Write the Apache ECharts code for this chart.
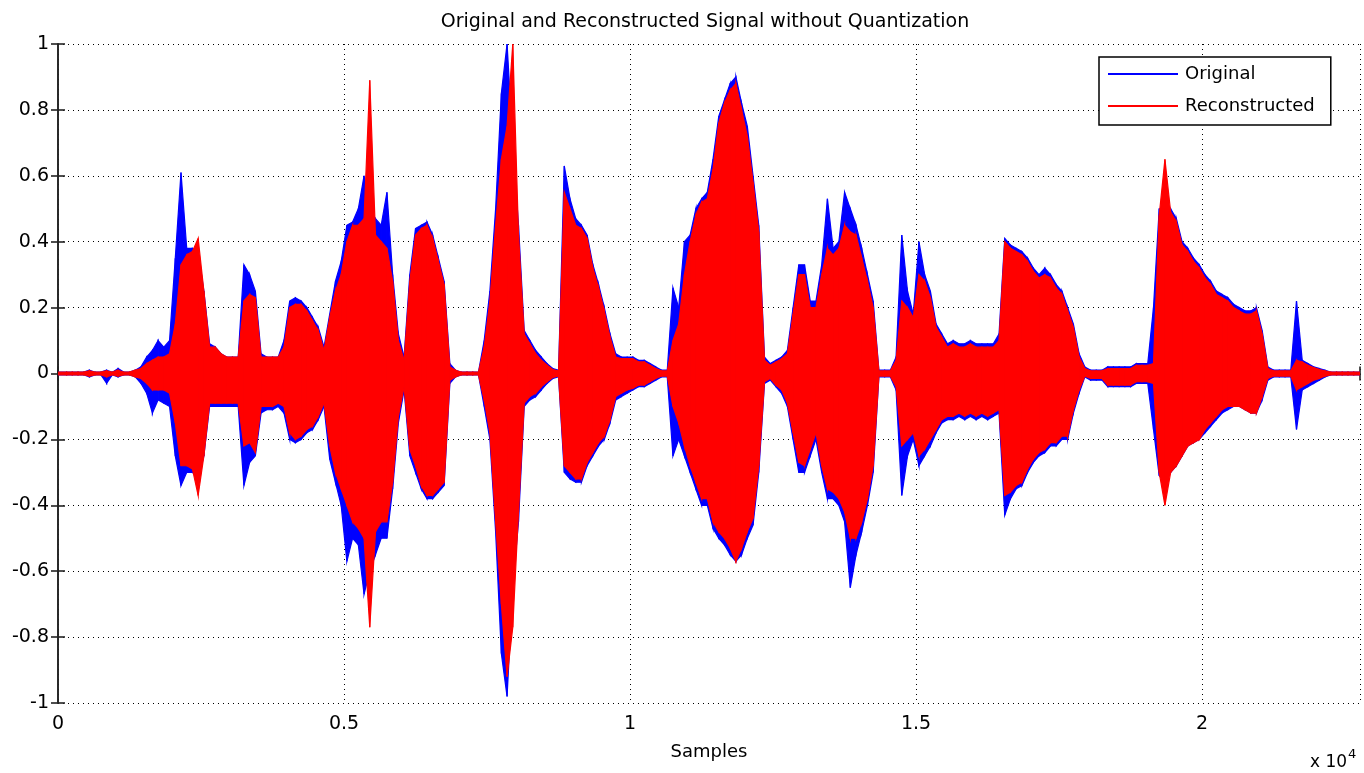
<!DOCTYPE html>
<html>
<head>
<meta charset="utf-8">
<script src="https://cdn.jsdelivr.net/npm/echarts@6/dist/echarts.min.js"></script>
<style>
html,body{margin:0;padding:0;background:#fff;}
#chart{width:1364px;height:773px;}
</style>
</head>
<body>
<div id="chart"></div>
<script>
// Envelope of the waveform, one value per block of 100 samples
var blockSize = 100;
var totalSamples = 22760;
var xTickLabels = ['0', '0.5', '1', '1.5', '2'];
var yTicks = [1, 0.8, 0.6, 0.4, 0.2, 0, -0.2, -0.4, -0.6, -0.8, -1];

var origMax = [
0.004,0.004,0.004,0.004,0.004,0.01,0.004,0.004,0.01,0.004,
0.015,0.004,0.004,0.01,0.02,0.05,0.07,0.1,0.08,0.1,
0.35,0.61,0.38,0.38,0.37,0.25,0.09,0.08,0.06,0.05,
0.05,0.05,0.33,0.3,0.25,0.06,0.05,0.05,0.05,0.1,
0.22,0.23,0.22,0.2,0.17,0.14,0.08,0.18,0.28,0.34,
0.45,0.46,0.5,0.6,0.5,0.47,0.45,0.55,0.3,0.12,
0.05,0.3,0.44,0.45,0.46,0.42,0.35,0.28,0.03,0.01,
0.004,0.004,0.004,0.004,0.1,0.25,0.5,0.85,1.0,0.7,
0.45,0.13,0.1,0.07,0.05,0.03,0.015,0.01,0.63,0.53,
0.47,0.45,0.42,0.33,0.27,0.2,0.12,0.06,0.05,0.05,
0.05,0.04,0.04,0.03,0.02,0.01,0.01,0.26,0.2,0.4,
0.42,0.5,0.53,0.55,0.65,0.78,0.83,0.88,0.9,0.82,
0.75,0.6,0.45,0.05,0.03,0.04,0.05,0.07,0.2,0.33,
0.33,0.22,0.22,0.33,0.53,0.38,0.4,0.55,0.5,0.45,
0.38,0.3,0.22,0.01,0.01,0.01,0.05,0.42,0.25,0.18,
0.4,0.3,0.25,0.15,0.12,0.09,0.1,0.09,0.09,0.1,
0.09,0.09,0.09,0.09,0.12,0.41,0.39,0.38,0.37,0.35,
0.32,0.3,0.32,0.3,0.27,0.25,0.2,0.15,0.06,0.02,
0.01,0.01,0.01,0.02,0.02,0.02,0.02,0.02,0.03,0.03,
0.03,0.2,0.5,0.5,0.5,0.47,0.4,0.38,0.35,0.33,
0.3,0.28,0.25,0.24,0.23,0.21,0.2,0.19,0.19,0.2,
0.13,0.02,0.01,0.01,0.01,0.01,0.22,0.04,0.03,0.02,
0.015,0.01,0.004,0.004,0.004,0.004,0.004,0.004
];
var origMin = [
-0.004,-0.004,-0.004,-0.004,-0.004,-0.01,-0.004,-0.004,-0.03,-0.004,
-0.01,-0.004,-0.004,-0.01,-0.03,-0.06,-0.12,-0.08,-0.09,-0.1,
-0.25,-0.34,-0.3,-0.3,-0.32,-0.25,-0.1,-0.1,-0.1,-0.1,
-0.1,-0.1,-0.34,-0.27,-0.25,-0.12,-0.11,-0.11,-0.1,-0.12,
-0.2,-0.21,-0.2,-0.18,-0.17,-0.14,-0.1,-0.26,-0.33,-0.4,
-0.57,-0.5,-0.52,-0.67,-0.6,-0.55,-0.5,-0.5,-0.35,-0.15,
-0.05,-0.25,-0.3,-0.35,-0.38,-0.38,-0.36,-0.34,-0.03,-0.01,
-0.004,-0.004,-0.004,-0.004,-0.1,-0.2,-0.48,-0.85,-0.98,-0.65,
-0.45,-0.1,-0.08,-0.07,-0.05,-0.03,-0.015,-0.01,-0.3,-0.32,
-0.33,-0.33,-0.28,-0.25,-0.22,-0.2,-0.15,-0.08,-0.07,-0.06,
-0.05,-0.04,-0.04,-0.03,-0.02,-0.01,-0.01,-0.25,-0.2,-0.25,
-0.3,-0.35,-0.4,-0.4,-0.47,-0.5,-0.52,-0.55,-0.57,-0.55,
-0.5,-0.46,-0.3,-0.03,-0.02,-0.04,-0.06,-0.1,-0.2,-0.3,
-0.3,-0.25,-0.2,-0.3,-0.38,-0.38,-0.4,-0.45,-0.65,-0.55,
-0.48,-0.4,-0.3,-0.01,-0.01,-0.01,-0.05,-0.37,-0.25,-0.2,
-0.28,-0.25,-0.22,-0.18,-0.15,-0.14,-0.14,-0.13,-0.14,-0.13,
-0.14,-0.13,-0.14,-0.13,-0.12,-0.43,-0.38,-0.35,-0.34,-0.3,
-0.27,-0.25,-0.24,-0.22,-0.22,-0.2,-0.2,-0.12,-0.06,-0.01,
-0.02,-0.02,-0.02,-0.04,-0.04,-0.04,-0.04,-0.04,-0.03,-0.03,
-0.03,-0.17,-0.31,-0.33,-0.3,-0.28,-0.25,-0.22,-0.21,-0.2,
-0.18,-0.16,-0.14,-0.12,-0.11,-0.1,-0.1,-0.11,-0.12,-0.12,
-0.08,-0.02,-0.01,-0.01,-0.01,-0.01,-0.17,-0.05,-0.04,-0.03,
-0.02,-0.01,-0.004,-0.004,-0.004,-0.004,-0.004,-0.004
];
var recMax = [
0.004,0.004,0.004,0.004,0.004,0.008,0.004,0.004,0.008,0.004,
0.01,0.004,0.004,0.01,0.015,0.03,0.04,0.05,0.05,0.06,
0.15,0.33,0.36,0.37,0.41,0.25,0.08,0.08,0.06,0.05,
0.05,0.05,0.22,0.24,0.23,0.05,0.05,0.05,0.05,0.08,
0.2,0.21,0.21,0.19,0.16,0.13,0.07,0.17,0.25,0.3,
0.4,0.45,0.45,0.47,0.89,0.42,0.4,0.38,0.28,0.1,
0.04,0.28,0.42,0.44,0.45,0.41,0.34,0.27,0.02,0.01,
0.004,0.004,0.004,0.004,0.08,0.22,0.45,0.65,0.75,1.0,
0.42,0.12,0.09,0.06,0.04,0.025,0.012,0.008,0.55,0.5,
0.45,0.44,0.41,0.32,0.26,0.19,0.11,0.05,0.045,0.045,
0.045,0.035,0.035,0.025,0.015,0.008,0.008,0.1,0.15,0.3,
0.4,0.48,0.52,0.53,0.62,0.76,0.82,0.86,0.88,0.8,
0.72,0.58,0.43,0.04,0.025,0.035,0.045,0.06,0.18,0.3,
0.3,0.2,0.2,0.3,0.38,0.36,0.38,0.45,0.43,0.42,
0.35,0.28,0.2,0.008,0.008,0.008,0.04,0.22,0.2,0.17,
0.3,0.28,0.23,0.14,0.11,0.08,0.09,0.08,0.08,0.09,
0.08,0.08,0.08,0.08,0.1,0.4,0.38,0.37,0.36,0.34,
0.31,0.29,0.3,0.29,0.26,0.24,0.19,0.14,0.05,0.015,
0.008,0.008,0.008,0.015,0.015,0.015,0.015,0.015,0.025,0.025,
0.025,0.03,0.48,0.65,0.49,0.46,0.39,0.37,0.34,0.32,
0.29,0.27,0.24,0.23,0.22,0.2,0.19,0.18,0.18,0.19,
0.12,0.015,0.008,0.008,0.008,0.008,0.04,0.035,0.025,0.018,
0.012,0.008,0.004,0.004,0.004,0.004,0.004,0.004
];
var recMin = [
-0.004,-0.004,-0.004,-0.004,-0.004,-0.008,-0.004,-0.004,-0.01,-0.004,
-0.008,-0.004,-0.004,-0.01,-0.015,-0.03,-0.05,-0.05,-0.05,-0.06,
-0.15,-0.28,-0.28,-0.29,-0.37,-0.25,-0.09,-0.09,-0.09,-0.09,
-0.09,-0.09,-0.22,-0.21,-0.24,-0.1,-0.1,-0.1,-0.09,-0.1,
-0.18,-0.2,-0.19,-0.17,-0.16,-0.13,-0.09,-0.22,-0.3,-0.35,
-0.4,-0.45,-0.47,-0.5,-0.77,-0.48,-0.45,-0.45,-0.33,-0.13,
-0.04,-0.23,-0.28,-0.34,-0.37,-0.37,-0.35,-0.33,-0.02,-0.01,
-0.004,-0.004,-0.004,-0.004,-0.08,-0.18,-0.45,-0.7,-0.92,-0.77,
-0.42,-0.09,-0.07,-0.06,-0.04,-0.025,-0.012,-0.008,-0.28,-0.3,
-0.32,-0.32,-0.27,-0.24,-0.21,-0.19,-0.14,-0.07,-0.06,-0.05,
-0.045,-0.035,-0.035,-0.025,-0.015,-0.008,-0.008,-0.1,-0.15,-0.22,
-0.28,-0.33,-0.38,-0.38,-0.45,-0.48,-0.5,-0.53,-0.57,-0.53,
-0.48,-0.44,-0.28,-0.025,-0.015,-0.035,-0.05,-0.09,-0.18,-0.27,
-0.28,-0.23,-0.18,-0.28,-0.35,-0.36,-0.38,-0.42,-0.5,-0.5,
-0.45,-0.38,-0.28,-0.008,-0.008,-0.008,-0.04,-0.22,-0.2,-0.18,
-0.25,-0.23,-0.2,-0.17,-0.14,-0.13,-0.13,-0.12,-0.13,-0.12,
-0.13,-0.12,-0.13,-0.12,-0.11,-0.37,-0.36,-0.34,-0.33,-0.29,
-0.26,-0.24,-0.23,-0.21,-0.21,-0.19,-0.19,-0.11,-0.05,-0.008,
-0.015,-0.015,-0.015,-0.035,-0.035,-0.035,-0.035,-0.035,-0.025,-0.025,
-0.025,-0.03,-0.3,-0.4,-0.3,-0.28,-0.25,-0.22,-0.21,-0.2,
-0.17,-0.15,-0.13,-0.11,-0.1,-0.1,-0.1,-0.11,-0.12,-0.12,
-0.07,-0.015,-0.008,-0.008,-0.008,-0.008,-0.05,-0.04,-0.03,-0.02,
-0.015,-0.008,-0.004,-0.004,-0.004,-0.004,-0.004,-0.004
];

// One band segment per pair of neighbouring blocks: [x0, max0, min0, x1, max1, min1]
function blockX(i, n) {
  if (i === 0) return 0;
  if (i === n - 1) return totalSamples;
  return i * blockSize + blockSize / 2;
}
function buildBand(maxArr, minArr) {
  var items = [];
  var n = maxArr.length;
  for (var i = 0; i < n - 1; i++) {
    items.push([blockX(i, n), maxArr[i], minArr[i], blockX(i + 1, n), maxArr[i + 1], minArr[i + 1]]);
  }
  return items;
}
function makeRender(color) {
  return function (params, api) {
    var a = api.coord([api.value(0), api.value(1)]);
    var b = api.coord([api.value(3), api.value(4)]);
    var c = api.coord([api.value(3), api.value(5)]);
    var d = api.coord([api.value(0), api.value(2)]);
    return {
      type: 'polygon',
      shape: { points: [a, b, c, d] },
      style: { fill: color, stroke: color, lineWidth: 1.2 }
    };
  };
}

var FONT = '"DejaVu Sans", Verdana, sans-serif';
var chart = echarts.init(document.getElementById('chart'));
var gridLine = { show: true, lineStyle: { color: '#000', type: [1, 4], width: 1 } };
var axisLine = { show: true, lineStyle: { color: '#222', width: 1.6 } };
var axisTick = { show: true, inside: true, length: 7, lineStyle: { color: '#222', width: 1.6 } };

var option = {
  animation: false,
  backgroundColor: '#fff',
  title: {
    text: 'Original and Reconstructed Signal without Quantization',
    left: 700, top: 8, textAlign: 'center',
    textStyle: { fontFamily: FONT, fontSize: 19, fontWeight: 'normal', color: '#000' }
  },
  legend: {
    orient: 'vertical', left: 1099, top: 57,
    padding: [8, 16, 10, 9], itemGap: 14,
    itemWidth: 70, itemHeight: 2, icon: 'rect',
    backgroundColor: '#fff', borderColor: '#000', borderWidth: 1.5,
    textStyle: { fontFamily: FONT, fontSize: 18, color: '#000', padding: [0, 0, 0, 2] },
    data: [
      { name: 'Original', itemStyle: { color: '#0000ff' } },
      { name: 'Reconstructed', itemStyle: { color: '#ff0000' } }
    ]
  },
  grid: { left: 58, right: 4, top: 44, bottom: 70, containLabel: false },
  xAxis: [{
    type: 'value', min: 0, max: totalSamples, interval: 5000,
    name: 'Samples', nameLocation: 'middle', nameGap: 40,
    nameTextStyle: { fontFamily: FONT, fontSize: 18, color: '#000' },
    axisLine: axisLine, axisTick: axisTick,
    axisLabel: {
      fontFamily: FONT, fontSize: 19, color: '#000', margin: 12,
      formatter: function (v) { var k = Math.round(v / 5000); return (k * 5000 === v && xTickLabels[k] !== undefined) ? xTickLabels[k] : ''; }
    },
    splitLine: gridLine
  }, {
    type: 'value', min: 0, max: totalSamples, interval: 5000, position: 'top',
    axisLine: axisLine, axisTick: axisTick,
    axisLabel: { show: false }, splitLine: { show: false }
  }],
  yAxis: [{
    type: 'value', min: -1, max: 1, interval: 0.2,
    axisLine: axisLine, axisTick: axisTick,
    axisLabel: {
      fontFamily: FONT, fontSize: 19, color: '#000', margin: 9,
      formatter: function (v) { var r = Math.round(v * 10) / 10; for (var i = 0; i < yTicks.length; i++) { if (Math.abs(yTicks[i] - r) < 1e-9) return String(yTicks[i]); } return ''; }
    },
    splitLine: gridLine
  }, {
    type: 'value', min: -1, max: 1, interval: 0.2, position: 'right',
    axisLine: axisLine, axisTick: axisTick,
    axisLabel: { show: false }, splitLine: { show: false }
  }],
  graphic: [{
    type: 'text', left: 1310, top: 748,
    style: {
      text: '{a|x 10}{b|4}',
      rich: {
        a: { fontFamily: FONT, fontSize: 17, color: '#000', verticalAlign: 'bottom' },
        b: { fontFamily: FONT, fontSize: 13, color: '#000', verticalAlign: 'top', padding: [0, 0, 10, 1] }
      }
    }
  }],
  series: [{
    name: 'Original', type: 'custom', clip: true,
    renderItem: makeRender('#0000ff'),
    encode: { x: [0, 3], y: [1, 2, 4, 5] },
    data: buildBand(origMax, origMin),
    itemStyle: { color: '#0000ff' }, z: 2
  }, {
    name: 'Reconstructed', type: 'custom', clip: true,
    renderItem: makeRender('#ff0000'),
    encode: { x: [0, 3], y: [1, 2, 4, 5] },
    data: buildBand(recMax, recMin),
    itemStyle: { color: '#ff0000' }, z: 3
  }]
};
chart.setOption(option);
</script>
</body>
</html>
